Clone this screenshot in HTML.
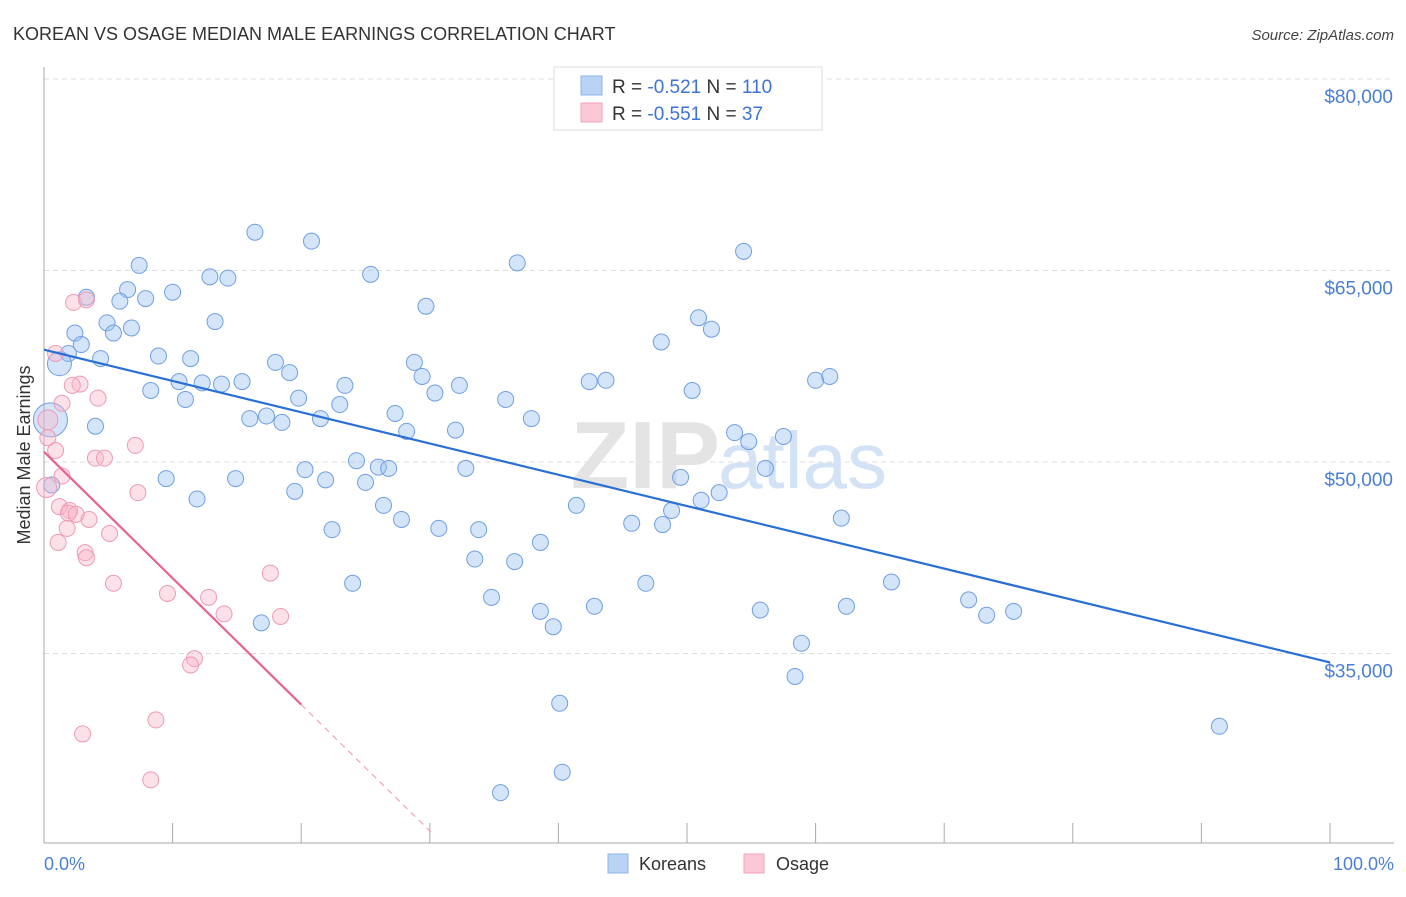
<!DOCTYPE html>
<html><head><meta charset="utf-8"><style>
body{margin:0;background:#fff;font-family:"Liberation Sans",sans-serif;}
svg text{font-family:"Liberation Sans",sans-serif;}
</style></head><body>
<svg id="chart" width="1406" height="892" xmlns="http://www.w3.org/2000/svg">
<text x="13" y="40" font-size="18" fill="#333">KOREAN VS OSAGE MEDIAN MALE EARNINGS CORRELATION CHART</text>
<text x="1394" y="40" font-size="15" fill="#444" font-style="italic" text-anchor="end">Source: ZipAtlas.com</text>
<g id="grid"></g>
<text x="720" y="488" font-size="96" font-family="Liberation Serif" font-weight="bold" fill="#e4e4e4" text-anchor="end">ZIP</text>
<text x="718" y="488" font-size="80" fill="#d3e3f5">atlas</text>
<line x1="44" y1="67" x2="44" y2="843" stroke="#aaa"/>
<line x1="44" y1="843" x2="1394" y2="843" stroke="#aaa"/>
<g id="ticks"></g>
<g id="pts"></g>
<g id="lines"></g>
<text x="30" y="455" font-size="18" fill="#333" text-anchor="middle" transform="rotate(-90 30 455)">Median Male Earnings</text>
<text x="44" y="870" font-size="18" fill="#4a7fd8">0.0%</text>
<text x="1394" y="870" font-size="18" fill="#4a7fd8" text-anchor="end">100.0%</text>
<g>
<rect x="554" y="67" width="268" height="63" fill="#fff" stroke="#ddd"/>
<rect x="581" y="76" width="21" height="19" fill="#b9d3f5" stroke="#8fb4ea"/>
<rect x="581" y="103" width="21" height="19" fill="#fcc8d7" stroke="#f0a3ba"/>
<text x="612" y="93" font-size="19" fill="#333">R = <tspan fill="#3d74d4">-0.521</tspan>   N = <tspan fill="#3d74d4">110</tspan></text>
<text x="612" y="120" font-size="19" fill="#333">R = <tspan fill="#3d74d4">-0.551</tspan>   N = <tspan fill="#3d74d4"> 37</tspan></text>
</g>
<g>
<rect x="608" y="854" width="20" height="19" fill="#b9d3f5" stroke="#8fb4ea"/>
<text x="639" y="870" font-size="18" fill="#333">Koreans</text>
<rect x="744" y="854" width="20" height="19" fill="#fcc8d7" stroke="#f0a3ba"/>
<text x="776" y="870" font-size="18" fill="#333">Osage</text>
</g>
</svg>
<script>
const yTicks=[80000,65000,50000,35000];
const yTickLabels=["$80,000","$65,000","$50,000","$35,000"];
const koreanX=[16.4,20.8,7.4,54.4,36.8,25.4,12.9,14.3,10.0,6.5,3.3,7.9,5.9,29.7,13.3,4.9,50.9,51.9,2.4,5.4,6.8,2.9,48.0,1.9,8.9,11.4,4.4,1.2,18.0,28.8,19.1,29.4,10.5,12.3,13.8,15.4,23.4,42.4,43.7,60.0,61.1,32.3,8.3,50.4,30.4,11.0,19.8,23.0,35.9,17.3,16.0,18.5,21.5,27.3,37.9,4.0,28.2,32.0,53.7,54.8,57.5,0.5,20.3,24.3,26.0,26.8,32.8,56.1,9.5,14.9,21.9,25.0,49.5,19.5,11.9,26.4,27.8,41.4,52.5,51.1,48.8,45.7,48.1,62.0,30.7,33.8,22.4,38.6,33.5,36.6,24.0,46.8,65.9,34.8,42.8,38.6,55.7,62.4,71.9,73.3,75.4,16.9,39.6,58.9,58.4,40.1,91.4,40.3,35.5,0.6];
const koreanY=[68.0,67.3,65.4,66.5,65.6,64.7,64.5,64.4,63.3,63.5,62.9,62.8,62.6,62.2,61.0,60.9,61.3,60.4,60.1,60.1,60.5,59.2,59.4,58.5,58.3,58.1,58.1,57.7,57.8,57.8,57.0,56.7,56.3,56.2,56.1,56.3,56.0,56.3,56.4,56.4,56.7,56.0,55.6,55.6,55.4,54.9,55.0,54.5,54.9,53.6,53.4,53.1,53.4,53.8,53.4,52.8,52.4,52.5,52.3,51.6,52.0,53.3,49.4,50.1,49.6,49.5,49.5,49.5,48.7,48.7,48.6,48.4,48.8,47.7,47.1,46.6,45.5,46.6,47.6,47.0,46.2,45.2,45.1,45.6,44.8,44.7,44.7,43.7,42.4,42.2,40.5,40.5,40.6,39.4,38.7,38.3,38.4,38.7,39.2,38.0,38.3,37.4,37.1,35.8,33.2,31.1,29.3,25.7,24.1,48.2];
const osageX=[2.3,3.3,0.9,2.8,2.2,1.4,4.2,0.3,0.3,0.9,4.0,4.7,7.1,1.4,7.3,1.2,2.0,1.9,2.5,3.5,1.8,5.1,1.1,3.2,3.3,5.4,9.6,12.8,14.0,18.4,17.6,11.7,11.4,8.7,3.0,8.3,0.2];
const osageY=[62.5,62.7,58.5,56.1,56.0,54.6,55.0,53.3,51.9,50.9,50.3,50.3,51.3,48.9,47.6,46.5,46.2,46.0,45.9,45.5,44.8,44.4,43.7,42.9,42.5,40.5,39.7,39.4,38.1,37.9,41.3,34.6,34.1,29.8,28.7,25.1,48.0];
const koreanTrend=[58.8,34.3];
const osageTrend=[50.8,-0.99];
const NS='http://www.w3.org/2000/svg';
const X=p=>44+p*12.86;
const Y=v=>79+(80000-v)/15000*191.5;
const Yk=k=>Y(k*1000);
function mk(tag,attrs,parent){const e=document.createElementNS(NS,tag);for(const k in attrs)e.setAttribute(k,attrs[k]);parent.appendChild(e);return e;}
const grid=document.getElementById('grid');
yTicks.forEach((t,i)=>{
  const l=mk('line',{x1:44,x2:1394,y1:Y(t),y2:Y(t),stroke:'#ddd','stroke-dasharray':'5,4'},grid);
  
  
  const tx=mk('text',{x:1393,y:Y(t)+24,'font-size':19,fill:'#4a7fd8','text-anchor':'end'},grid);
  tx.textContent=yTickLabels[i];
  
  
});
const ticks=document.getElementById('ticks');
for(let i=0;i<=10;i++){
  const l=mk('line',{x1:X(i*10),x2:X(i*10),y1:823,y2:843,stroke:'#aaa'},ticks);
  
  
}
const pts=document.getElementById('pts');
const bigK={61:17,111:17,27:12};
koreanX.forEach((x,i)=>{
  const c=mk('circle',{cx:X(x),cy:Yk(koreanY[i]),r:bigK[i]||8,fill:'rgba(150,190,240,0.4)',stroke:'#6f9fe3','stroke-width':1},pts);
  
  
});
osageX.forEach((x,i)=>{
  const c=mk('circle',{cx:X(x),cy:Yk(osageY[i]),r:(i==7||i==36)?10:8,fill:'rgba(250,180,200,0.4)',stroke:'#ee9ab4','stroke-width':1},pts);
  
  
});
const lines=document.getElementById('lines');
const kl=mk('line',{x1:X(0),y1:Yk(koreanTrend[0]),x2:X(100),y2:Yk(koreanTrend[1]),stroke:'#2a6fd6','stroke-width':2.2},lines);


const ol=mk('line',{x1:X(0),y1:Yk(osageTrend[0]),x2:X(20),y2:Yk(osageTrend[0]+osageTrend[1]*20),stroke:'#e8628f','stroke-width':2.2},lines);


const od=mk('line',{x1:X(20),y1:Yk(osageTrend[0]+osageTrend[1]*20),x2:X(30.1),y2:Yk(osageTrend[0]+osageTrend[1]*30.1),stroke:'#f0a3ba','stroke-width':1.2,'stroke-dasharray':'6,5'},lines);


</script>
</body></html>
